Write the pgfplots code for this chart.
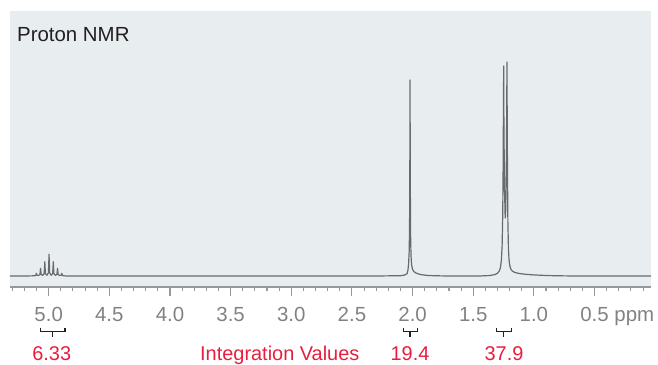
\documentclass[border=0pt]{standalone}
\usepackage{pgfplots}
\pgfplotsset{compat=1.18}
\usepackage{fontspec}
\setmainfont{Liberation Sans}

\definecolor{panel}{RGB}{232,237,240}
\definecolor{specgray}{RGB}{105,106,109}
\definecolor{tickgray}{RGB}{128,130,133}
\definecolor{axisgray}{RGB}{150,152,155}
\definecolor{intred}{RGB}{232,30,62}
\definecolor{ink}{RGB}{35,31,32}

\begin{document}
\begin{tikzpicture}
\path[use as bounding box] (0,0) rectangle (658bp,365bp);
\begin{axis}[
  at={(10bp,78bp)}, anchor=south west,
  scale only axis,
  width=641bp, height=276bp,
  x dir=reverse,
  xmin=0.0346, xmax=5.319,
  ymin=-11, ymax=265,
  axis background/.style={fill=panel},
  axis x line*=bottom,
  axis y line=none,
  x axis line style={axisgray, line width=1.5bp},
  clip=false,
  tick align=outside,
  major tick length=9bp,
  minor tick length=4bp,
  xtick={0.5,1.0,1.5,2.0,2.5,3.0,3.5,4.0,4.5,5.0},
  xticklabels={0.5\rlap{ ppm},1.0,1.5,2.0,2.5,3.0,3.5,4.0,4.5,5.0},
  minor xtick={0.1,0.2,0.3,0.4,0.6,0.7,0.8,0.9,1.1,1.2,1.3,1.4,1.6,1.7,1.8,1.9,
    2.1,2.2,2.3,2.4,2.6,2.7,2.8,2.9,3.1,3.2,3.3,3.4,3.6,3.7,3.8,3.9,
    4.1,4.2,4.3,4.4,4.6,4.7,4.8,4.9,5.1,5.2,5.3},
  every tick/.style={axisgray, line width=1.1bp},
  /pgf/number format/assume math mode=true,
  xticklabel style={font=\fontsize{20.5}{24}\selectfont, text=tickgray,
    anchor=north, inner sep=0pt, yshift=-11bp},
]
\addplot[specgray, line width=1.2bp, line join=round] coordinates {
  (5.319,0) (5.20,0) (5.115,0.2)
  (5.107,0.6) (5.102,2.7) (5.097,0.8) (5.0845,0.5)
  (5.072,1.6) (5.067,7.7) (5.062,1.6) (5.0495,0.6)
  (5.037,2.4) (5.032,14.3) (5.027,2.4) (5.0145,0.7)
  (5.002,3.2) (4.997,21.7) (4.992,3.2) (4.9795,0.7)
  (4.967,2.4) (4.962,14.3) (4.957,2.4) (4.9445,0.6)
  (4.932,1.6) (4.927,7.7) (4.922,1.6) (4.9095,0.5)
  (4.897,0.8) (4.892,2.7) (4.887,0.6) (4.875,0.2) (4.85,0)
  (2.30,0) (2.10,0.3) (2.07,0.8) (2.055,1.6) (2.045,2.5) (2.038,6)
  (2.033,12) (2.028,25) (2.025,50) (2.0225,120) (2.021,196)
  (2.0195,120) (2.017,45) (2.013,20) (2.008,11) (2.000,6.5)
  (1.99,4.5) (1.975,3.2) (1.96,2.4) (1.94,1.6) (1.91,1.0)
  (1.87,0.5) (1.80,0.2) (1.70,0)
  (1.45,0) (1.36,0.5) (1.32,1.5) (1.30,2.8) (1.285,5) (1.275,9)
  (1.268,16) (1.262,30) (1.257,60) (1.2535,110) (1.251,170) (1.249,210)
  (1.247,150) (1.2425,90) (1.2375,62) (1.2355,58) (1.233,64) (1.2285,90)
  (1.225,150) (1.223,190) (1.222,214) (1.2205,170) (1.218,110)
  (1.2145,55) (1.21,28) (1.205,16) (1.198,10) (1.19,7) (1.18,5.2)
  (1.165,4) (1.15,3.3) (1.12,2.5) (1.09,2.0) (1.05,1.5) (1.0,1.1)
  (0.95,0.8) (0.9,0.5) (0.8,0.2) (0.65,0) (0.0346,0)
};
\node[anchor=base west, inner sep=0pt, text=ink,
  font=\fontsize{20.5}{24}\selectfont] at (rel axis cs:0.0109,0.889) {Proton NMR};
\end{axis}

% integration brackets and values
\begin{scope}[ink, line width=1.1bp]
  \draw (40.7bp,37.3bp) -- (40.7bp,33.3bp) -- (65bp,33.3bp) -- (65bp,37.3bp);
  \draw (52.3bp,33.3bp) -- (52.3bp,27.7bp);
  \draw (403.3bp,37.3bp) -- (403.3bp,33.3bp) -- (417.3bp,33.3bp) -- (417.3bp,37.3bp);
  \draw (410bp,33.3bp) -- (410bp,27.7bp);
  \draw (496.7bp,37.3bp) -- (496.7bp,33.3bp) -- (511.7bp,33.3bp) -- (511.7bp,37.3bp);
  \draw (503.3bp,33.3bp) -- (503.3bp,27.7bp);
\end{scope}
\begin{scope}[every node/.style={inner sep=0pt, text=intred,
    font=\fontsize{20}{24}\selectfont}]
  \node[anchor=base] at (51.7bp,4.3bp) {6.33};
  \node[anchor=base west] at (200bp,4.3bp) {Integration Values};
  \node[anchor=base] at (410bp,4.3bp) {19.4};
  \node[anchor=base] at (504bp,4.3bp) {37.9};
\end{scope}
\end{tikzpicture}
\end{document}
